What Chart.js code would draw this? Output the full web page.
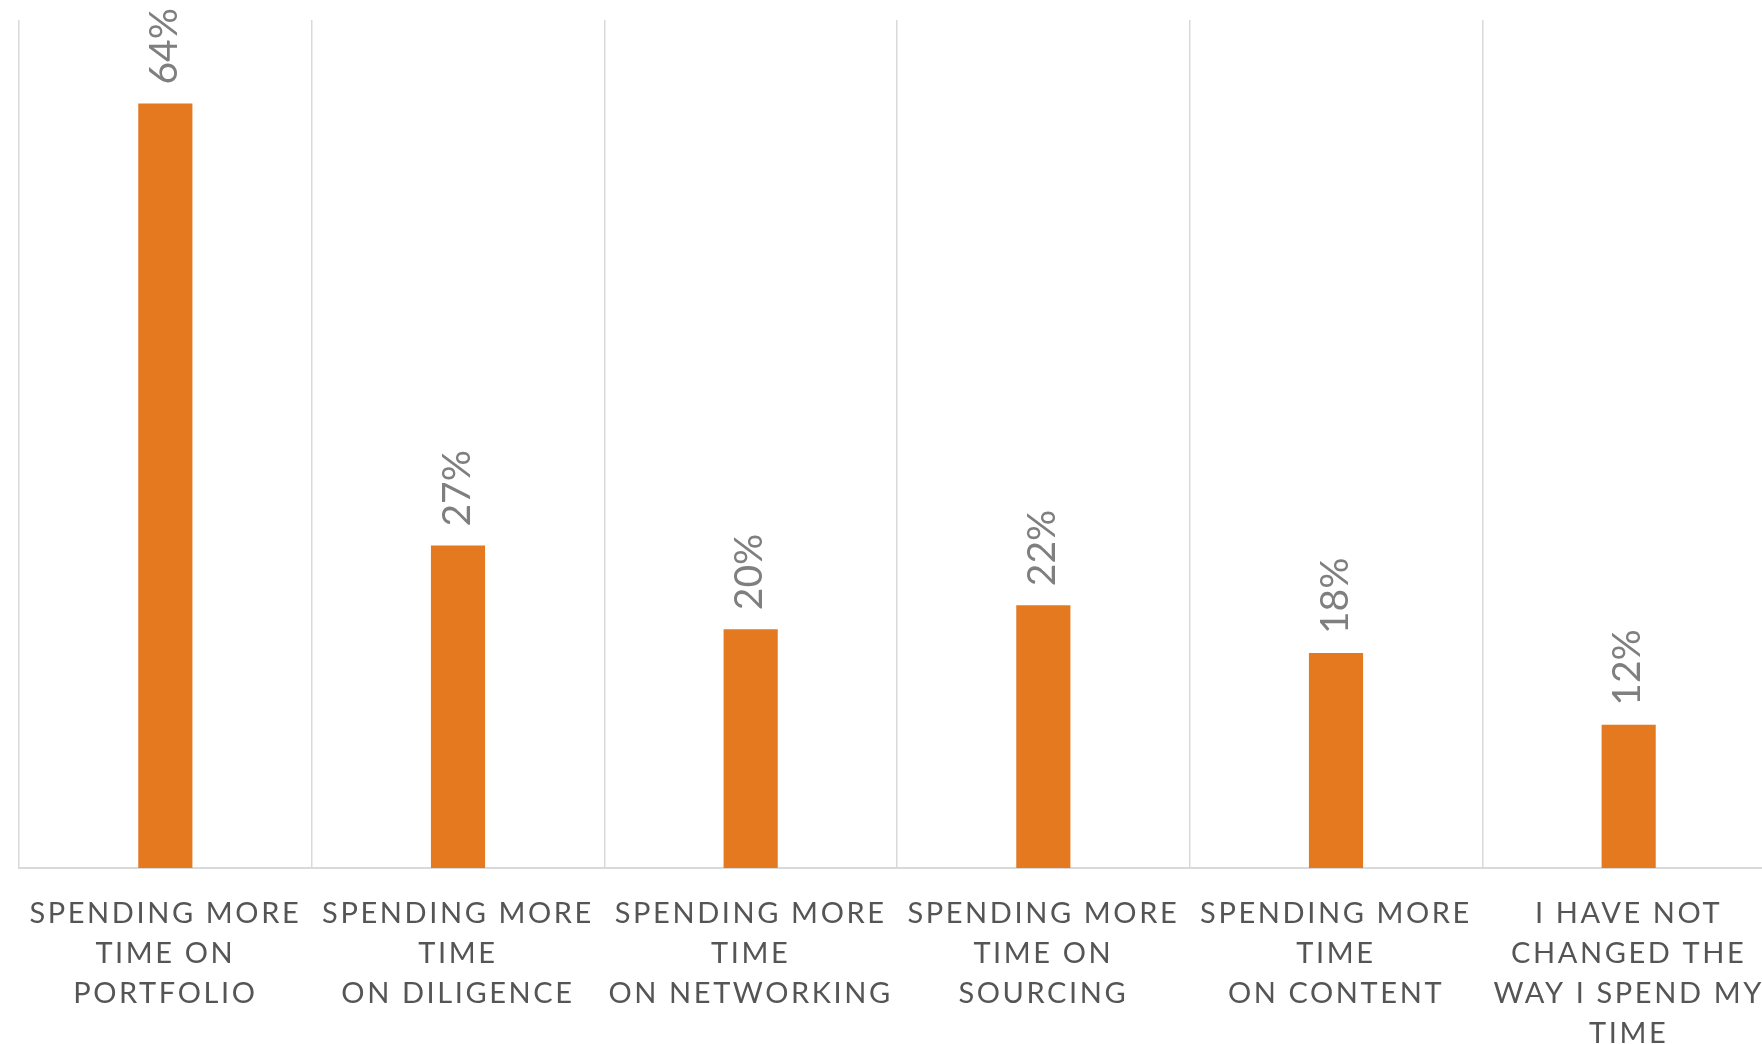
<!DOCTYPE html>
<html>
<head>
<meta charset="utf-8">
<script src="https://cdn.jsdelivr.net/npm/chart.js@4.4.1/dist/chart.umd.min.js"></script>
<style>
  html, body { margin: 0; padding: 0; background: #fff; overflow: hidden; }
  #wrap { position: absolute; left: 0; top: 0; width: 1800px; height: 1044px; }
</style>
</head>
<body>
<div id="wrap"><canvas id="chart"></canvas></div>
<script>
const categories = [
  ["SPENDING MORE", "TIME ON", "PORTFOLIO"],
  ["SPENDING MORE", "TIME", "ON DILIGENCE"],
  ["SPENDING MORE", "TIME", "ON NETWORKING"],
  ["SPENDING MORE", "TIME ON", "SOURCING"],
  ["SPENDING MORE", "TIME", "ON CONTENT"],
  ["I HAVE NOT", "CHANGED THE", "WAY I SPEND MY", "TIME"]
];
const values = [64, 27, 20, 22, 18, 12];
const valueLabels = ["64%", "27%", "20%", "22%", "18%", "12%"];

// label text over each bar, turned upright
const barLabels = {
  id: "barLabels",
  beforeDraw(chart) {
    chart.ctx.letterSpacing = "2.6px";
  },
  afterDatasetsDraw(chart) {
    const ctx = chart.ctx;
    const meta = chart.getDatasetMeta(0);
    ctx.save();
    ctx.letterSpacing = "0px";
    ctx.fillStyle = "#7f7f7f";
    ctx.font = "39px Lato";
    ctx.textAlign = "left";
    ctx.textBaseline = "middle";
    meta.data.forEach((bar, i) => {
      ctx.save();
      ctx.translate(bar.x - 1, bar.y - 19);
      ctx.rotate(-Math.PI / 2);
      ctx.fillText(valueLabels[i], 0, 0);
      ctx.restore();
    });
    ctx.restore();
  }
};

const ctx = document.getElementById("chart").getContext("2d");
new Chart(ctx, {
  type: "bar",
  data: {
    labels: categories,
    datasets: [
      {
        data: values,
        backgroundColor: "#e4791f",
        borderWidth: 0,
        categoryPercentage: 1,
        barPercentage: 0.185
      }
    ]
  },
  options: {
    responsive: true,
    maintainAspectRatio: false,
    animation: false,
    layout: { padding: { left: 19, right: 25, top: 20, bottom: 0 } },
    scales: {
      x: {
        grid: { color: "#d9d9d9", drawTicks: false, lineWidth: 1.5 },
        border: { color: "#d9d9d9", width: 2 },
        ticks: {
          color: "#555555",
          font: { family: "Lato", size: 29, lineHeight: 1.38 },
          padding: 26,
          maxRotation: 0,
          autoSkip: false
        },
        afterFit(scale) { scale.height = 176; }
      },
      y: {
        display: false,
        min: 0,
        max: 71
      }
    },
    plugins: {
      legend: { display: false },
      tooltip: { enabled: false }
    }
  },
  plugins: [barLabels]
});
</script>
</body>
</html>
